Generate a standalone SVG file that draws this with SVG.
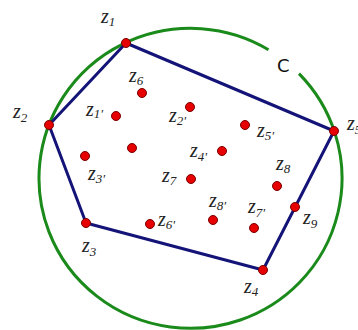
<svg xmlns="http://www.w3.org/2000/svg" width="358" height="330" viewBox="0 0 358 330">
<style>
.lbl{font-family:"Liberation Serif","Times New Roman",serif;font-style:italic;font-size:20px;fill:#222}
.sub{font-size:13px}
.dot{fill:#e60000;stroke:#7a0000;stroke-width:1}
.edge{stroke:#141478;stroke-width:3;fill:none;stroke-linecap:round}
.circ{stroke:#1a8a1a;stroke-width:3;fill:none}
.clbl{font-family:"DejaVu Sans",sans-serif;font-size:18px;fill:#111}
</style>
<rect width="358" height="330" fill="#fff"/>
<g id="circle-C">
<path class="circ" d="M 299 73.611 A 151.5 150 0 1 1 268.5 49.708"/>
<text class="clbl" x="277" y="71.7">C</text>
</g>
<g id="connectors">
<line class="edge" x1="126" y1="43" x2="334" y2="131"/>
<line class="edge" x1="334" y1="131" x2="263" y2="270"/>
<line class="edge" x1="263" y1="270" x2="86" y2="223"/>
<line class="edge" x1="86" y1="223" x2="49" y2="125"/>
<line class="edge" x1="49" y1="125" x2="126" y2="43"/>
</g>
<g id="z1"><circle class="dot" cx="126" cy="43" r="4.5"/><text class="lbl" x="101" y="23">z<tspan class="sub" dy="3">1</tspan></text></g>
<g id="z2"><circle class="dot" cx="49" cy="125" r="4.5"/><text class="lbl" x="13" y="118">z<tspan class="sub" dy="4">2</tspan></text></g>
<g id="z5"><circle class="dot" cx="334" cy="131" r="4.5"/><text class="lbl" x="347" y="130">z<tspan class="sub" dy="4">5</tspan></text></g>
<g id="z9"><circle class="dot" cx="295" cy="207" r="4.5"/><text class="lbl" x="303" y="224">z<tspan class="sub" dy="4">9</tspan></text></g>
<g id="z4"><circle class="dot" cx="263" cy="270" r="4.5"/><text class="lbl" x="244" y="293">z<tspan class="sub" dy="3">4</tspan></text></g>
<g id="z3"><circle class="dot" cx="86" cy="223" r="4.5"/><text class="lbl" x="82" y="252">z<tspan class="sub" dy="4">3</tspan></text></g>
<g id="z6"><circle class="dot" cx="142" cy="93" r="4.5"/><text class="lbl" x="129" y="82">z<tspan class="sub" dy="3">6</tspan></text></g>
<g id="z1p"><circle class="dot" cx="116" cy="116" r="4.5"/><text class="lbl" x="86" y="116">z<tspan class="sub" dy="2">1'</tspan></text></g>
<g id="pA"><circle class="dot" cx="132" cy="148" r="4.5"/></g>
<g id="z3p"><circle class="dot" cx="85" cy="156" r="4.5"/><text class="lbl" x="88" y="180">z<tspan class="sub" dy="3">3'</tspan></text></g>
<g id="z2p"><circle class="dot" cx="190" cy="107" r="4.5"/><text class="lbl" x="169" y="122">z<tspan class="sub" dy="3">2'</tspan></text></g>
<g id="z5p"><circle class="dot" cx="245" cy="125" r="4.5"/><text class="lbl" x="257" y="137">z<tspan class="sub" dy="3">5'</tspan></text></g>
<g id="z4p"><circle class="dot" cx="222" cy="151" r="4.5"/><text class="lbl" x="190" y="157">z<tspan class="sub" dy="4">4'</tspan></text></g>
<g id="z7"><circle class="dot" cx="191" cy="179" r="4.5"/><text class="lbl" x="162" y="182">z<tspan class="sub" dy="3">7</tspan></text></g>
<g id="z8"><circle class="dot" cx="277" cy="186" r="4.5"/><text class="lbl" x="276" y="170">z<tspan class="sub" dy="3">8</tspan></text></g>
<g id="z8p"><circle class="dot" cx="213" cy="220" r="4.5"/><text class="lbl" x="209" y="207">z<tspan class="sub" dy="3">8'</tspan></text></g>
<g id="z7p"><circle class="dot" cx="254" cy="228" r="4.5"/><text class="lbl" x="248" y="213">z<tspan class="sub" dy="4">7'</tspan></text></g>
<g id="z6p"><circle class="dot" cx="150" cy="224" r="4.5"/><text class="lbl" x="158" y="226">z<tspan class="sub" dy="3">6'</tspan></text></g>
</svg>
